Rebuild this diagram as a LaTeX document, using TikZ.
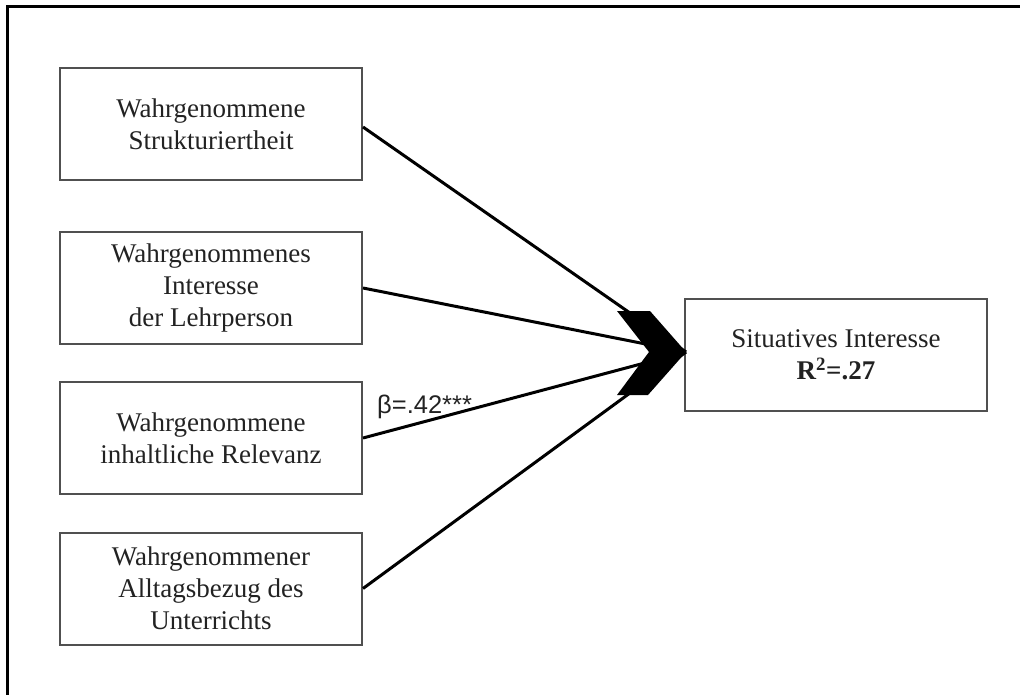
\documentclass[tikz,border=0pt]{standalone}
\usepackage{fontspec}
\setmainfont{Liberation Serif}
\newfontfamily\sansf{Liberation Sans}
\definecolor{boxgray}{HTML}{505050}
\definecolor{txtgray}{HTML}{222222}
\begin{document}
\begin{tikzpicture}[x=1pt,y=-1pt,
  box/.style={draw=boxgray, line width=2pt, minimum width=302pt, minimum height=112pt,
    align=center, font=\fontsize{27}{32}\selectfont, text=txtgray, inner sep=0pt},
  conn/.style={line width=3pt, draw=black},
  frame/.style={line width=3pt, draw=black}]
\useasboundingbox (0,0) rectangle (1020,695);
\draw[frame] (7,695) -- (7,7) -- (1020,7);
\node[box] (b1) at (211,124) {Wahrgenommene\\Strukturiertheit};
\node[box] (b2) at (211,288) {Wahrgenommenes\\Interesse\\der Lehrperson};
\node[box] (b3) at (211,438) {Wahrgenommene\\inhaltliche Relevanz};
\node[box] (b4) at (211,588.5) {Wahrgenommener\\Alltagsbezug des\\Unterrichts};
\node[box] (t) at (836,355) {Situatives Interesse\\\textbf{R\textsuperscript{2}=.27}};
\coordinate (tip) at (686,352);
\draw[conn] (b1.east |- 0,127) -- (tip);
\draw[conn] (b2.east) -- (tip);
\draw[conn] (b3.east) -- (tip);
\draw[conn] (b4.east) -- (tip);
\fill[black] (tip) -- (648,395) -- (617,395) -- (649,352) -- (617,311) -- (650,311) -- cycle;
\node[font=\sansf\fontsize{25.5}{30}\selectfont, text=txtgray, anchor=base west, inner sep=0pt] (lab) at (377,413) {β=.42***};
\end{tikzpicture}
\end{document}
